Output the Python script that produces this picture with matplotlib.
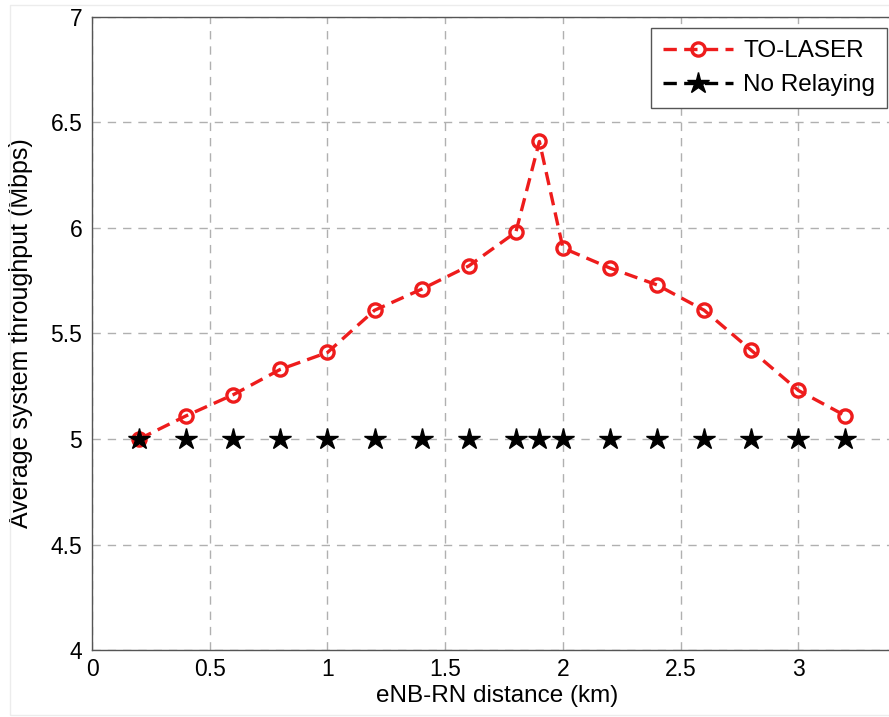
import matplotlib.pyplot as plt
from matplotlib.lines import Line2D
from matplotlib.ticker import FormatStrFormatter

plt.rcParams['font.family'] = ['Liberation Sans', 'DejaVu Sans']

# data
distance = [0.2, 0.4, 0.6, 0.8, 1.0, 1.2, 1.4, 1.6, 1.8, 1.9, 2.0, 2.2, 2.4, 2.6, 2.8, 3.0, 3.2]
to_laser = [5.0, 5.11, 5.21, 5.33, 5.41, 5.61, 5.71, 5.82, 5.98, 6.41, 5.905, 5.81, 5.73, 5.61, 5.42, 5.23, 5.11]
no_relay = [5.0] * len(distance)

x_ticks = [0, 0.5, 1, 1.5, 2, 2.5, 3]
y_ticks = [4, 4.5, 5, 5.5, 6, 6.5, 7]

red = '#ee1c1c'

fig = plt.figure(figsize=(8.89, 7.17), dpi=100)
# the original picture is cropped on the right, so the axes run past the edge
ax = fig.add_axes([0.1035, 0.0934, 0.927, 0.883])

ax.plot(distance, to_laser, color=red, ls=(0, (4, 2.2)), lw=2.4,
        marker='o', ms=9.5, mfc='none', mew=2.4, zorder=3)
# in the original the black dashes vanish under the grid line at 5
ax.plot(distance, no_relay, ls='none', marker='*', color='black', ms=16, zorder=4)

ax.set_xlim(0, 3.5)
ax.set_ylim(4, 7)
ax.set_xticks(x_ticks)
ax.set_yticks(y_ticks)
ax.xaxis.set_major_formatter(FormatStrFormatter('%g'))
ax.yaxis.set_major_formatter(FormatStrFormatter('%g'))
ax.tick_params(labelsize=16.5, direction='in', length=0)
ax.tick_params(axis='x', pad=6)
ax.tick_params(axis='y', pad=7)
ax.grid(True, ls=(0, (6, 5)), color='#b0b0b0', lw=1)
for s in ax.spines.values():
    s.set_color('#555555')
    s.set_linewidth(1)

ax.set_xlabel('eNB-RN distance (km)', fontsize=17.5)
ax.set_ylabel('Average system throughput (Mbps)', fontsize=18)
ax.xaxis.set_label_coords(0.4916, -0.055)
ax.yaxis.set_label_coords(-0.072, 0.5)

handles = [
    Line2D([], [], color=red, ls=(0, (4, 2.2)), lw=2.4, marker='o', ms=9.5,
           mfc='none', mew=2.4),
    Line2D([], [], color='black', ls=(0, (4, 2.2)), lw=2.4, marker='*', ms=16),
]
leg = fig.legend(handles, ['TO-LASER', 'No Relaying'], loc='upper right',
                 bbox_to_anchor=(0.998, 0.961), borderaxespad=0,
                 fontsize=17.5, fancybox=False, framealpha=1,
                 edgecolor='#555555', handlelength=2.9, handletextpad=0.4,
                 borderpad=0.5, labelspacing=0.5)
leg.get_frame().set_linewidth(1)

# faint frame of the original screenshot
fig.add_artist(plt.Rectangle((0.011, 0.003), 0.995, 0.99, fill=False,
                             ec='#ececec', lw=1, transform=fig.transFigure))

fig.savefig('out.png', dpi=100)
